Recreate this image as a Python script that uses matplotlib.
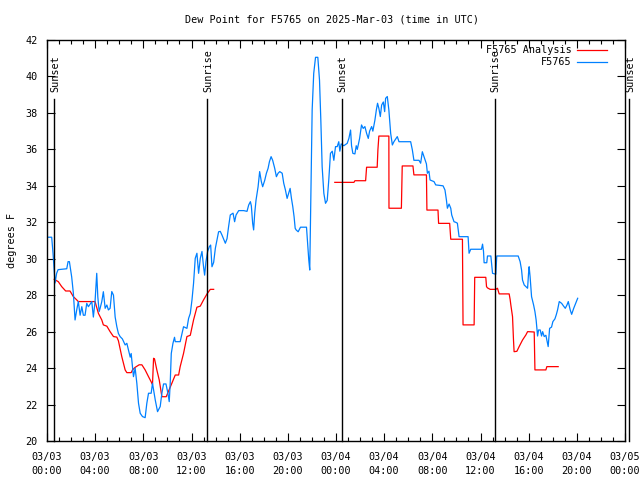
import matplotlib
matplotlib.use("Agg")

import matplotlib.pyplot as plt
from matplotlib.ticker import MultipleLocator

# hours since 03/03 00:00 UTC
obs_hours = [
    0.0, 0.39, 0.5, 0.6, 0.67, 0.8, 0.92, 1.64, 1.75, 1.86, 2.05, 2.19, 2.33, 2.47, 2.60,
    2.75, 2.89, 3.02, 3.16, 3.30, 3.44, 3.72, 3.85, 3.99, 4.13, 4.22, 4.33, 4.41, 4.55,
    4.68, 4.83, 4.97, 5.10, 5.24, 5.38, 5.52, 5.66, 5.80, 5.93, 6.07, 6.26, 6.49, 6.63,
    6.76, 6.91, 6.99, 7.10, 7.18, 7.32, 7.46, 7.60, 7.74, 7.93, 8.15, 8.29, 8.43, 8.65,
    8.76, 8.99, 9.18, 9.40, 9.54, 9.68, 9.88, 10.04, 10.15, 10.23, 10.32, 10.46, 10.59,
    10.65, 11.06, 11.34, 11.62, 11.76, 11.90, 12.04, 12.17, 12.31, 12.45, 12.59, 12.73,
    12.87, 13.00, 13.09, 13.20, 13.34, 13.48, 13.59, 13.70, 13.84, 13.98, 14.12, 14.25,
    14.39, 14.53, 14.81, 14.95, 15.08, 15.22, 15.45, 15.58, 15.70, 15.92, 16.33, 16.61,
    16.75, 16.89, 16.97, 17.08, 17.16, 17.25, 17.36, 17.53, 17.66, 17.80, 17.91, 18.08,
    18.22, 18.36, 18.47, 18.61, 18.74, 18.91, 19.05, 19.19, 19.33, 19.53, 19.66, 19.80,
    19.94, 20.07, 20.19, 20.30, 20.41, 20.52, 20.61, 20.69, 20.86, 21.05, 21.55, 21.66,
    21.74, 21.82, 21.88, 21.96, 22.02, 22.15, 22.30, 22.49, 22.63, 22.74, 22.85, 22.99,
    23.13, 23.27, 23.40, 23.54, 23.69, 23.82, 23.96, 24.10, 24.23, 24.32, 24.43, 24.65,
    24.93, 25.07, 25.21, 25.29, 25.40, 25.57, 25.68, 25.77, 25.96, 26.12, 26.26, 26.40,
    26.54, 26.68, 26.79, 26.96, 27.06, 27.23, 27.35, 27.45, 27.56, 27.68, 27.79, 27.93,
    28.04, 28.12, 28.26, 28.39, 28.54, 28.68, 28.81, 28.89, 29.09, 29.23, 30.20, 30.34,
    30.47, 30.89, 31.03, 31.17, 31.31, 31.51, 31.59, 31.72, 31.81, 32.14, 32.28, 32.89,
    33.05, 33.17, 33.25, 33.39, 33.53, 33.61, 33.80, 33.94, 34.08, 34.22, 34.97, 35.05,
    35.19, 36.08, 36.17, 36.25, 36.30, 36.52, 36.58, 36.86, 37.00, 37.27, 37.35, 39.13,
    39.29, 39.41, 39.49, 39.63, 39.91, 39.99, 40.04, 40.12, 40.24, 40.41, 40.52, 40.62,
    40.74, 40.82, 40.96, 41.07, 41.16, 41.29, 41.43, 41.51, 41.62, 41.74, 41.90, 42.01,
    42.18, 42.29, 42.40, 42.54, 42.74, 42.90, 43.04, 43.18, 43.29, 43.45, 43.57, 43.74,
    43.93, 44.07,
]
obs_dewpt = [
    31.18, 31.18, 30.3, 29.3, 28.67, 29.2, 29.4, 29.45, 29.84, 29.84, 29.0, 28.1, 26.64,
    27.2, 27.65, 26.9, 27.37, 26.9, 26.9, 27.55, 27.37, 27.65, 26.8, 27.65, 29.2, 27.9,
    27.1, 27.28, 27.65, 28.19, 27.28, 27.46, 27.19, 27.28, 28.2, 28.0, 26.8, 26.27, 25.9,
    25.73, 25.6, 25.27, 25.36, 25.0, 24.6, 24.8, 24.08, 23.53, 24.0, 23.17, 22.07, 21.52,
    21.34, 21.28, 22.07, 22.62, 22.62, 23.17, 22.25, 21.61, 21.89, 22.62, 23.13, 23.13,
    22.62, 22.16, 23.13, 24.8, 25.36, 25.69, 25.45, 25.45, 26.27, 26.18, 26.73, 27.0,
    27.74, 28.65, 30.02, 30.3, 29.2, 30.02, 30.4, 29.56, 29.1, 29.84, 30.4, 30.66, 30.75,
    29.56, 29.8, 30.57, 31.03, 31.48, 31.5, 31.3, 30.85, 31.1, 31.76, 32.4, 32.5, 32.03,
    32.4, 32.64, 32.64, 32.6, 32.95, 33.13, 32.9, 31.94, 31.58, 32.5, 33.22, 33.95, 34.78,
    34.23, 33.95, 34.3, 34.69, 34.96, 35.32, 35.6, 35.4, 34.96, 34.5, 34.69, 34.78, 34.69,
    34.14, 33.77, 33.31, 33.59, 33.86, 33.31, 32.86, 32.3, 31.67, 31.58, 31.48, 31.73,
    31.73, 30.66, 29.93, 29.38, 31.94, 35.24, 38.16, 40.17, 41.05, 41.05, 39.8, 37.6,
    35.05, 33.59, 33.04, 33.2, 34.32, 35.78, 35.9, 35.4, 36.15, 36.15, 36.42, 35.9, 36.3,
    36.2, 36.33, 36.6, 37.06, 36.2, 35.78, 35.75, 36.2, 36.0, 36.6, 37.34, 37.15, 37.25,
    36.88, 36.6, 37.0, 37.25, 37.0, 37.6, 38.16, 38.53, 38.25, 37.8, 38.43, 38.6, 38.07,
    38.8, 38.9, 38.16, 36.88, 36.24, 36.42, 36.5, 36.7, 36.42, 36.42, 35.97, 35.4, 35.4,
    35.24, 35.87, 35.6, 35.2, 34.69, 34.8, 34.32, 34.23, 34.05, 34.0, 33.77, 33.22, 32.77,
    33.0, 32.77, 32.4, 32.03, 32.0, 31.95, 31.21, 31.21, 30.3, 30.52, 30.52, 30.8, 30.4,
    29.78, 29.78, 30.15, 30.15, 29.2, 29.15, 30.15, 30.15, 29.84, 29.38, 28.83, 28.56,
    28.38, 29.2, 29.56, 29.0, 27.92, 27.46, 27.1, 26.64, 25.76, 26.09, 26.09, 25.76, 26.0,
    25.73, 25.8, 25.54, 25.18, 26.18, 26.25, 26.55, 26.7, 26.92, 27.19, 27.65, 27.55, 27.4,
    27.28, 27.46, 27.65, 27.19, 26.95, 27.28, 27.6, 27.83,
]

ana_hours = [
    0.6, 0.94, 1.22, 1.55, 1.91, 2.19, 2.47, 2.60, 3.99, 4.27, 4.55, 4.68, 4.97, 5.24,
    5.52, 5.80, 5.93, 6.21, 6.49, 6.63, 6.99, 7.10, 7.32, 7.65, 7.88, 8.15, 8.43, 8.71,
    8.76, 8.85, 8.93, 9.12, 9.32, 9.54, 9.90, 10.37, 10.65, 10.93, 11.06, 11.34, 11.62,
    11.90, 12.17, 12.45, 12.73, 13.00, 13.29, 13.56, 13.84,
    None,
    23.90, 25.49, 25.57, 26.46, 26.54, 27.42, 27.48, 27.56, 28.39, 28.40, 29.43, 29.50,
    30.39, 30.47, 31.51, 31.55, 32.47, 32.52, 33.44, 33.53, 34.50, 34.55, 35.47, 35.52,
    36.44, 36.50, 36.58, 36.80, 37.27, 37.41, 37.55, 38.38, 38.46, 38.52, 38.66, 38.74,
    38.79, 39.02, 39.21, 39.49, 39.77, 39.91, 40.46, 40.52, 41.43, 41.51, 42.45,
]
ana_dewpt = [
    28.87, 28.74, 28.47, 28.23, 28.23, 27.92, 27.74, 27.65, 27.65, 27.0, 26.64, 26.37,
    26.3, 26.0, 25.73, 25.7, 25.5, 24.63, 23.9, 23.75, 23.75, 23.9, 24.04, 24.18, 24.18,
    23.9, 23.53, 23.17, 23.1, 24.54, 24.5, 23.9, 23.35, 22.43, 22.43, 23.17, 23.62, 23.62,
    24.08, 24.81, 25.73, 25.8, 26.64, 27.34, 27.4, 27.74, 28.07, 28.32, 28.32,
    None,
    34.19, 34.19, 34.28, 34.28, 35.02, 35.02, 35.97, 36.73, 36.73, 32.77, 32.77, 35.09,
    35.09, 34.6, 34.6, 32.67, 32.67, 31.94, 31.94, 31.07, 31.07, 26.37, 26.37, 28.98,
    28.98, 28.47, 28.4, 28.32, 28.32, 28.38, 28.07, 28.07, 27.77, 27.46, 26.82, 25.54,
    24.9, 24.92, 25.18, 25.54, 25.82, 26.0, 25.98, 23.9, 23.9, 24.08, 24.08,
]

sun_hours = [0.58, 13.31, 24.46, 37.19, 48.34]
sun_labels = ["Sunset", "Sunrise", "Sunset", "Sunrise", "Sunset"]

xtick_hours = [0, 4, 8, 12, 16, 20, 24, 28, 32, 36, 40, 44, 48]
xtick_labels = [
    "03/03\n00:00", "03/03\n04:00", "03/03\n08:00", "03/03\n12:00", "03/03\n16:00",
    "03/03\n20:00", "03/04\n00:00", "03/04\n04:00", "03/04\n08:00", "03/04\n12:00",
    "03/04\n16:00", "03/04\n20:00", "03/05\n00:00",
]

plt.rcParams["font.family"] = ["DejaVu Sans Mono"]
plt.rcParams["font.size"] = 7.3

fig = plt.figure(figsize=(6.4, 4.8), dpi=100)
ax = fig.add_axes([47 / 640, 1 - 441 / 480, 578 / 640, 401 / 480])

ana_x = [float("nan") if h is None else h for h in ana_hours]
ana_y = [float("nan") if v is None else v for v in ana_dewpt]
ax.plot(ana_x, ana_y, color="#ff0000", linewidth=0.9, label="F5765 Analysis")
ax.plot(obs_hours, obs_dewpt, color="#0080ff", linewidth=0.9, label="F5765")

for h, lab in zip(sun_hours, sun_labels):
    ax.plot([h, h], [0.0, 0.853], color="black", linewidth=1.0,
            transform=ax.get_xaxis_transform(), clip_on=False)
    ax.text(h + 0.08, 0.87, lab, rotation=90, ha="center", va="bottom",
            transform=ax.get_xaxis_transform(), clip_on=False)

ax.set_xlim(0, 48)
ax.set_ylim(20, 42)
ax.set_xticks(xtick_hours)
ax.set_xticklabels(xtick_labels, linespacing=1.5)
ax.xaxis.set_minor_locator(MultipleLocator(1))
ax.yaxis.set_major_locator(MultipleLocator(2))
ax.tick_params(which="both", direction="in", top=True, right=True, width=0.8)
ax.tick_params(which="major", length=6)
ax.tick_params(which="minor", length=3)
ax.tick_params(axis="x", pad=8)
ax.tick_params(axis="y", pad=7)
for s in ax.spines.values():
    s.set_linewidth(1.0)

ax.set_ylabel("degrees F", labelpad=6)
fig.text(332 / 640, 1 - 19 / 480, "Dew Point for F5765 on 2025-Mar-03 (time in UTC)",
         ha="center", va="center")

ax.legend(loc="upper right", bbox_to_anchor=(0.976, 0.997), frameon=False,
          markerfirst=False, handlelength=3.0, handletextpad=0.5,
          labelspacing=0.2, borderaxespad=0.0)

fig.savefig("out.png", dpi=100)
